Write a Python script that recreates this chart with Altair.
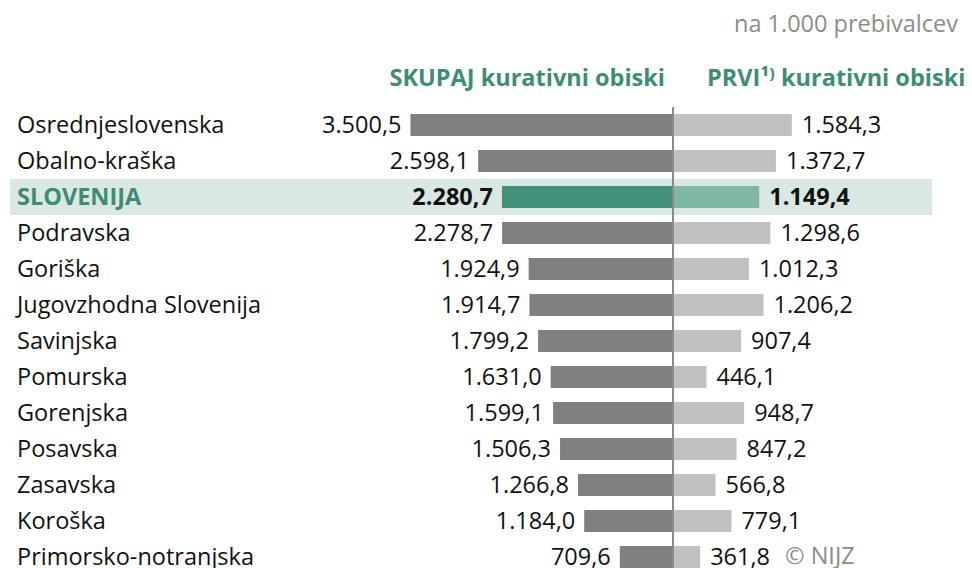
import altair as alt
import pandas as pd

regions = ["Osrednjeslovenska", "Obalno-kraška", "SLOVENIJA", "Podravska", "Goriška",
           "Jugovzhodna Slovenija", "Savinjska", "Pomurska", "Gorenjska", "Posavska",
           "Zasavska", "Koroška", "Primorsko-notranjska"]
skupaj = [3500.5, 2598.1, 2280.7, 2278.7, 1924.9, 1914.7, 1799.2, 1631.0, 1599.1,
          1506.3, 1266.8, 1184.0, 709.6]
prvi = [1584.3, 1372.7, 1149.4, 1298.6, 1012.3, 1206.2, 907.4, 446.1, 948.7,
        847.2, 566.8, 779.1, 361.8]
total_name = "SLOVENIJA"
header_left = ["SKUPAJ kurativni obiski"]
header_right = ["PRVI¹⁾ kurativni obiski"]
unit_note = ["na 1.000 prebivalcev"]
credit = ["© NIJZ"]


def fmt(v):
    return f"{v:,.1f}".replace(",", "X").replace(".", ",").replace("X", ".")


df = pd.DataFrame({
    "region": regions,
    "neg": [-v for v in skupaj],
    "prvi": prvi,
    "zero": [0] * len(regions),
    "lab_l": [fmt(v) for v in skupaj],
    "lab_r": [fmt(v) for v in prvi],
    "slo": [r == total_name for r in regions],
})

FONT = "Open Sans"
W, H = 956, 468
CENTER = 665
PX_PER_UNIT = 0.075
xscale = alt.Scale(domain=[-CENTER / PX_PER_UNIT, (W - CENTER) / PX_PER_UNIT], nice=False, zero=False)
yscale = alt.Scale(paddingInner=0, paddingOuter=0)

GREEN = "#43917a"
GREEN_L = "#80b7a6"
GREEN_TXT = "#3e8c73"
DARK = "#808080"
LIGHT = "#c0c0c0"

base = alt.Chart(df)
Y = alt.Y("region:N", sort=regions, scale=yscale, axis=None)

band = base.transform_filter("datum.slo").mark_rect(color="#dae8e3").encode(
    y=Y, x=alt.value(2), x2=alt.value(924))

left = base.mark_bar(size=22).encode(
    y=Y,
    x=alt.X("neg:Q", scale=xscale, axis=None),
    x2="zero:Q",
    color=alt.when(alt.datum.slo).then(alt.value(GREEN)).otherwise(alt.value(DARK)),
)
right = base.mark_bar(size=22).encode(
    y=Y,
    x=alt.X("zero:Q", scale=xscale, axis=None),
    x2="prvi:Q",
    color=alt.when(alt.datum.slo).then(alt.value(GREEN_L)).otherwise(alt.value(LIGHT)),
)

rule = base.transform_filter("datum.slo").mark_rule(color="#8a8a8a", strokeWidth=2).encode(
    x=alt.X("zero:Q", scale=xscale, axis=None), y=alt.value(0), y2=alt.value(H))

FS = 23.5
lab_l_n = base.transform_filter("!datum.slo").mark_text(
    align="right", baseline="middle", dx=-9, dy=1, font=FONT, fontSize=FS, color="#111").encode(
    y=Y, x=alt.X("neg:Q", scale=xscale, axis=None), text="lab_l:N")
lab_l_s = base.transform_filter("datum.slo").mark_text(
    align="right", baseline="middle", dx=-9, dy=1, font=FONT, fontSize=FS, fontWeight="bold", color="#111").encode(
    y=Y, x=alt.X("neg:Q", scale=xscale, axis=None), text="lab_l:N")
lab_r_n = base.transform_filter("!datum.slo").mark_text(
    align="left", baseline="middle", dx=10, dy=1, font=FONT, fontSize=FS, color="#111").encode(
    y=Y, x=alt.X("prvi:Q", scale=xscale, axis=None), text="lab_r:N")
lab_r_s = base.transform_filter("datum.slo").mark_text(
    align="left", baseline="middle", dx=10, dy=1, font=FONT, fontSize=FS, fontWeight="bold", color="#111").encode(
    y=Y, x=alt.X("prvi:Q", scale=xscale, axis=None), text="lab_r:N")

cat_n = base.transform_filter("!datum.slo").mark_text(
    align="left", baseline="middle", dy=1, font=FONT, fontSize=FS, color="#111").encode(
    y=Y, x=alt.value(9), text="region:N")
cat_s = base.transform_filter("datum.slo").mark_text(
    align="left", baseline="middle", dy=1, font=FONT, fontSize=FS, fontWeight="bold", color=GREEN_TXT).encode(
    y=Y, x=alt.value(9), text="region:N")

HFS = 23.5
hl = alt.Chart(pd.DataFrame({"t": header_left})).mark_text(
    align="right", baseline="middle", font=FONT, fontSize=HFS, fontWeight="bold", color=GREEN_TXT).encode(
    x=alt.value(657), y=alt.value(-28), text="t:N")
hr = alt.Chart(pd.DataFrame({"t": header_right})).mark_text(
    align="left", baseline="middle", font=FONT, fontSize=HFS, fontWeight="bold", color=GREEN_TXT).encode(
    x=alt.value(699), y=alt.value(-28), text="t:N")
note = alt.Chart(pd.DataFrame({"t": unit_note})).mark_text(
    align="right", baseline="middle", font=FONT, fontSize=23.5, color="#8c8c8c").encode(
    x=alt.value(950), y=alt.value(-82), text="t:N")
cred = alt.Chart(pd.DataFrame({"t": credit})).mark_text(
    align="left", baseline="middle", font=FONT, fontSize=23.5, color="#8c8c8c").encode(
    x=alt.value(777), y=alt.value(450), text="t:N")

chart = alt.layer(band, left, right, lab_l_n, lab_l_s, lab_r_n, lab_r_s, cat_n, cat_s,
                  rule, hl, hr, note, cred).properties(
    width=W, height=H, autosize="none",
    padding={"top": 99, "left": 0, "right": 0, "bottom": 0},
).configure_view(stroke=None)

chart.save("out.html", embed_options={"renderer": "svg", "actions": False})
